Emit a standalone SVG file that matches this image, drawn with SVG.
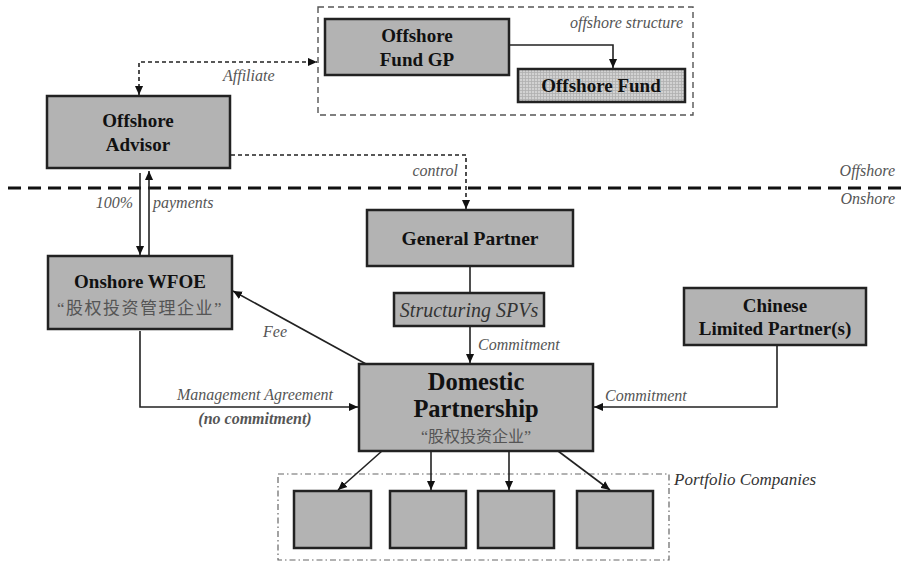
<svg xmlns="http://www.w3.org/2000/svg" width="904" height="562" viewBox="0 0 904 562">
<style>
.box{fill:#b3b3b3;stroke:#222;stroke-width:2.5}
.t{font-family:"Liberation Serif","Times New Roman",serif;font-weight:bold;fill:#111;text-anchor:middle}
.lb{font-family:"Liberation Serif","Times New Roman",serif;font-style:italic;fill:#555;font-size:16px}
.cjk{font-family:"Liberation Serif","Noto Sans CJK SC",sans-serif;fill:#555;text-anchor:middle}
.ln{fill:none;stroke:#222;stroke-width:1.6}
.dl{fill:none;stroke:#222;stroke-width:1.6;stroke-dasharray:4 3}
</style>
<defs>
<marker id="arr" viewBox="0 0 10 10" refX="10" refY="5" markerWidth="9" markerHeight="9" markerUnits="userSpaceOnUse" orient="auto-start-reverse">
<path d="M0,0.5 L10,5 L0,9.5 z" fill="#111"/>
</marker>
<pattern id="grid" width="3" height="3" patternUnits="userSpaceOnUse">
<rect width="3" height="3" fill="#d2d2d2"/>
<path d="M0,0.5 H3 M0.5,0 V3" stroke="#b0b0b0" stroke-width="0.8"/>
</pattern>
</defs>
<rect width="904" height="562" fill="#fff"/>

<!-- divider -->
<g id="divider">
<line x1="8" y1="188" x2="904" y2="188" stroke="#111" stroke-width="3" stroke-dasharray="13 7"/>
<text class="lb" x="895" y="176" text-anchor="end" font-size="16.5">Offshore</text>
<text class="lb" x="895" y="204" text-anchor="end" font-size="16.5">Onshore</text>
</g>

<g id="offshore-structure">
<rect x="318" y="7" width="375" height="108" fill="none" stroke="#555" stroke-width="1.4" stroke-dasharray="6 4"/>
<text class="lb" x="683" y="28" text-anchor="end">offshore structure</text>
</g>

<g id="offshore-fund-gp">
<rect class="box" x="325" y="19" width="184" height="56"/>
<text class="t" x="417" y="42" font-size="19">Offshore</text>
<text class="t" x="417" y="66" font-size="19">Fund GP</text>
</g>

<g id="offshore-fund">
<rect x="518" y="69" width="167" height="33" fill="url(#grid)" stroke="#222" stroke-width="2.5"/>
<text class="t" x="601" y="92" font-size="19">Offshore Fund</text>
</g>

<g id="offshore-advisor">
<rect class="box" x="47" y="96" width="183" height="72"/>
<text class="t" x="138" y="127" font-size="19">Offshore</text>
<text class="t" x="138" y="151" font-size="19">Advisor</text>
</g>

<g id="general-partner">
<rect class="box" x="367" y="210" width="206" height="56"/>
<text class="t" x="470" y="245" font-size="19.5">General Partner</text>
</g>

<g id="structuring-spvs">
<rect class="box" x="394" y="293" width="150" height="33" stroke-width="2"/>
<text x="469" y="317" text-anchor="middle" font-family="Liberation Serif, Times New Roman, serif" font-style="italic" font-size="20" fill="#333">Structuring SPVs</text>
</g>

<g id="onshore-wfoe">
<rect class="box" x="48" y="256" width="184" height="73"/>
<text class="t" x="140" y="288" font-size="19">Onshore WFOE</text>
<text class="cjk" x="140" y="314" font-size="17" letter-spacing="1.5">“股权投资管理企业”</text>
</g>

<g id="chinese-lp">
<rect class="box" x="684" y="288" width="182" height="57"/>
<text class="t" x="775" y="312" font-size="19">Chinese</text>
<text class="t" x="775" y="335" font-size="19">Limited Partner(s)</text>
</g>

<g id="domestic-partnership">
<rect class="box" x="359" y="364" width="234" height="87"/>
<text class="t" x="476" y="390" font-size="24.5">Domestic</text>
<text class="t" x="476" y="417" font-size="24.5">Partnership</text>
<text class="cjk" x="476" y="442" font-size="16">“股权投资企业”</text>
</g>

<g id="portfolio-companies">
<rect x="278" y="474" width="391" height="86" fill="none" stroke="#666" stroke-width="1.2" stroke-dasharray="6 3 1.5 3"/>
<text x="674" y="485" font-family="Liberation Serif, Times New Roman, serif" font-style="italic" font-size="17" fill="#333">Portfolio Companies</text>
<rect class="box" x="294" y="491" width="77" height="57"/>
<rect class="box" x="390" y="491" width="76" height="57"/>
<rect class="box" x="478" y="491" width="76" height="57"/>
<rect class="box" x="577" y="491" width="76" height="57"/>
</g>

<g id="connectors">
<path class="dl" d="M139,95 L139,62 L317,62" marker-start="url(#arr)" marker-end="url(#arr)"/>
<text class="lb" x="223" y="81">Affiliate</text>
<path class="dl" d="M231,155 L466,155 L466,209" marker-end="url(#arr)"/>
<text class="lb" x="458" y="176" text-anchor="end" font-size="15.5">control</text>
<path class="ln" d="M509,45 L613,45 L613,68" marker-end="url(#arr)"/>
<path class="ln" d="M140,173 L140,255" marker-end="url(#arr)"/>
<path class="ln" d="M149,256 L149,171" marker-end="url(#arr)"/>
<text class="lb" x="133" y="208" text-anchor="end">100%</text>
<text class="lb" x="153" y="208">payments</text>
<path class="ln" d="M470,266 L470,293"/>
<path class="ln" d="M470,326 L470,363" marker-end="url(#arr)"/>
<text class="lb" x="478" y="350" font-size="15.5">Commitment</text>
<path class="ln" d="M366,364 L233,291" marker-end="url(#arr)"/>
<text class="lb" x="263" y="337">Fee</text>
<path class="ln" d="M140,331 L140,407 L358,407" marker-end="url(#arr)"/>
<text class="lb" x="255" y="400" text-anchor="middle" font-size="16.5">Management Agreement</text>
<text class="lb" x="255" y="424" text-anchor="middle" font-weight="bold">(no commitment)</text>
<path class="ln" d="M777,345 L777,407 L594,407" marker-end="url(#arr)"/>
<text class="lb" x="605" y="401">Commitment</text>
<path class="ln" d="M382,451 L338,490" marker-end="url(#arr)"/>
<path class="ln" d="M431,451 L431,490" marker-end="url(#arr)"/>
<path class="ln" d="M509,451 L509,490" marker-end="url(#arr)"/>
<path class="ln" d="M558,451 L610,490" marker-end="url(#arr)"/>
</g>
</svg>
